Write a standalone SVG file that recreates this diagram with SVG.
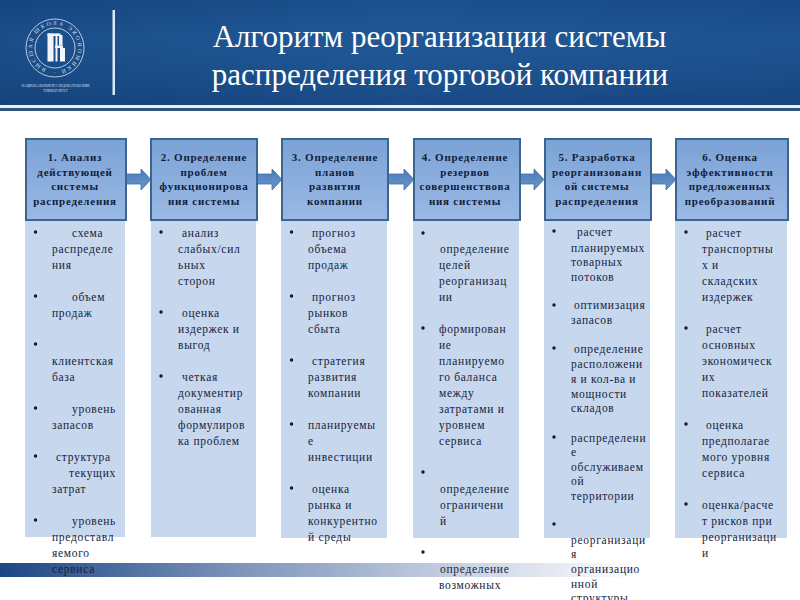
<svg xmlns="http://www.w3.org/2000/svg" width="800" height="600" viewBox="0 0 800 600">
<style>
text{font-family:"Liberation Serif","Times New Roman",serif}
.t{font-size:31px;fill:#fff;text-anchor:middle}
.h{font-size:11px;font-weight:bold;fill:#10203a;text-anchor:middle;letter-spacing:.75px}
.b{font-size:11.5px;fill:#16233a;letter-spacing:.7px}
.d{fill:#0d1a33}
.hd{fill:url(#hg);stroke:#3b648f;stroke-width:2}
.bd{fill:#c6d7ee}
.ar{fill:url(#ag);stroke:#3f6fa3;stroke-width:.8}
</style>
<defs>
<linearGradient id="top" x1="0" y1="0" x2="1" y2="0"><stop offset="0" stop-color="#174781"/><stop offset=".5" stop-color="#1d5492"/><stop offset="1" stop-color="#1a4c8a"/></linearGradient>
<linearGradient id="shade" x1="0" y1="0" x2="0" y2="1"><stop offset="0" stop-color="#10407a" stop-opacity=".2"/><stop offset=".35" stop-color="#2a6aa8" stop-opacity=".2"/><stop offset="1" stop-color="#123a70" stop-opacity=".4"/></linearGradient>
<linearGradient id="foot" x1="0" y1="0" x2="1" y2="0"><stop offset="0" stop-color="#1c4685"/><stop offset=".3" stop-color="#7e94ba"/><stop offset=".6" stop-color="#ced7e6"/><stop offset=".8" stop-color="#fff"/></linearGradient>
<linearGradient id="hg" x1="0" y1="0" x2="0" y2="1"><stop offset="0" stop-color="#7ba2d6"/><stop offset="1" stop-color="#9ab9e4"/></linearGradient>
<linearGradient id="ag" x1="0" y1="0" x2="0" y2="1"><stop offset="0" stop-color="#4a7cb8"/><stop offset="1" stop-color="#6a96cc"/></linearGradient>
<path id="ring" d="M46 69a23 23 0 1 1 18 0a23 23 0 0 1-18 0"/>
</defs>
<rect width="800" height="600" fill="#fff"/>
<g id="header">
<rect width="800" height="105" fill="url(#top)"/><rect width="800" height="105" fill="url(#shade)"/>
<rect y="105" width="800" height="3" fill="#e8f0f8"/><rect y="108" width="800" height="3" fill="#2f5480"/>
<rect x="112.500" y="10" width="2.500" height="85" fill="#dce8f4"/>
<g id="logo" fill="none" stroke="#dfe8f2">
<circle cx="55" cy="48" r="29" stroke-width=".8"/><circle cx="55" cy="48" r="20" stroke-width=".8"/>
<text font-size="5.500" fill="#dfe8f2" stroke="none"><textPath href="#ring" textLength="136" lengthAdjust="spacing">ВЫСШАЯ ШКОЛА ЭКОНОМИКИ ·</textPath></text>
<g fill="#f0f5fa" stroke="none"><rect x="47.500" y="33.500" width="6" height="28"/><rect x="55.500" y="33.500" width="2" height="28"/><rect x="60" y="48" width="5" height="13.500"/><rect x="47.500" y="33.500" width="13" height="2.500"/><rect x="59" y="35" width="3.500" height="10.500"/><rect x="55" y="45.500" width="8" height="2.500"/></g>
</g>
<text x="55.500" y="87" font-size="3.400" fill="#cfdcec" text-anchor="middle">НАЦИОНАЛЬНЫЙ ИССЛЕДОВАТЕЛЬСКИЙ</text>
<text x="55.500" y="92" font-size="3.400" fill="#cfdcec" text-anchor="middle">УНИВЕРСИТЕТ</text>
<text class="t" x="439.500" y="47">Алгоритм реорганизации системы</text>
<text class="t" x="440" y="85">распределения торговой компании</text>
</g>
<rect id="footer" y="563" width="800" height="14" fill="url(#foot)"/>
<g id="connectors">
<polygon class="ar" points="126,174 141,174 141,169 151,179.500 141,190 141,184 126,184"/>
<polygon class="ar" points="257,174 272,174 272,169 282,179.500 272,190 272,184 257,184"/>
<polygon class="ar" points="388,174 404,174 404,169 414,179.500 404,190 404,184 388,184"/>
<polygon class="ar" points="520,174 534,174 534,169 544,179.500 534,190 534,184 520,184"/>
<polygon class="ar" points="651,174 666,174 666,169 676,179.500 666,190 666,184 651,184"/>
</g>
<g id="node1">
<rect class="bd" x="25" y="220" width="100" height="317"/><rect class="hd" x="26" y="139" width="100" height="81"/>
<text class="h" x="75" y="161">1. Анализ</text><text class="h" x="75" y="176">действующей</text><text class="h" x="75" y="190">системы</text><text class="h" x="75" y="205">распределения</text>
<g class="d"><circle cx="35.500" cy="232" r="1.700"/><circle cx="35.500" cy="296" r="1.700"/><circle cx="35.500" cy="344" r="1.700"/><circle cx="35.500" cy="408" r="1.700"/><circle cx="35.500" cy="456" r="1.700"/><circle cx="35.500" cy="520" r="1.700"/></g>
<text class="b" x="72" y="237">схема</text><text class="b" x="52" y="253">распределе</text><text class="b" x="52" y="269">ния</text>
<text class="b" x="72" y="301">объем</text><text class="b" x="52" y="317">продаж</text>
<text class="b" x="52" y="365">клиентская</text><text class="b" x="52" y="381">база</text>
<text class="b" x="72" y="413">уровень</text><text class="b" x="52" y="429">запасов</text>
<text class="b" x="56" y="461">структура</text><text class="b" x="69" y="477">текущих</text><text class="b" x="52" y="493">затрат</text>
<text class="b" x="72" y="525">уровень</text><text class="b" x="52" y="541">предоставл</text><text class="b" x="52" y="557">яемого</text><text class="b" x="52" y="573">сервиса</text>
</g>
<g id="node2">
<rect class="bd" x="151" y="220" width="105" height="317"/><rect class="hd" x="151" y="139" width="106" height="81"/>
<text class="h" x="204" y="161">2. Определение</text><text class="h" x="204" y="176">проблем</text><text class="h" x="204" y="190">функционирова</text><text class="h" x="204" y="205">ния системы</text>
<g class="d"><circle cx="161" cy="232" r="1.700"/><circle cx="161" cy="312" r="1.700"/><circle cx="161" cy="376" r="1.700"/></g>
<text class="b" x="182" y="237">анализ</text><text class="b" x="178" y="253">слабых/сил</text><text class="b" x="178" y="269">ьных</text><text class="b" x="178" y="285">сторон</text>
<text class="b" x="182" y="317">оценка</text><text class="b" x="178" y="333">издержек и</text><text class="b" x="178" y="349">выгод</text>
<text class="b" x="182" y="381">четкая</text><text class="b" x="178" y="397">документир</text><text class="b" x="178" y="413">ованная</text><text class="b" x="178" y="429">формулиров</text><text class="b" x="178" y="445">ка проблем</text>
</g>
<g id="node3">
<rect class="bd" x="281" y="220" width="106" height="318"/><rect class="hd" x="282" y="139" width="106" height="81"/>
<text class="h" x="335" y="161">3. Определение</text><text class="h" x="335" y="176">планов</text><text class="h" x="335" y="190">развития</text><text class="h" x="335" y="205">компании</text>
<g class="d"><circle cx="291.500" cy="232" r="1.700"/><circle cx="291.500" cy="296" r="1.700"/><circle cx="291.500" cy="360" r="1.700"/><circle cx="291.500" cy="424" r="1.700"/><circle cx="291.500" cy="488" r="1.700"/></g>
<text class="b" x="312" y="237">прогноз</text><text class="b" x="308" y="253">объема</text><text class="b" x="308" y="269">продаж</text>
<text class="b" x="312" y="301">прогноз</text><text class="b" x="308" y="317">рынков</text><text class="b" x="308" y="333">сбыта</text>
<text class="b" x="312" y="365">стратегия</text><text class="b" x="308" y="381">развития</text><text class="b" x="308" y="397">компании</text>
<text class="b" x="308" y="429">планируемы</text><text class="b" x="308" y="445">е</text><text class="b" x="308" y="461">инвестиции</text>
<text class="b" x="312" y="493">оценка</text><text class="b" x="308" y="509">рынка и</text><text class="b" x="308" y="525">конкурентно</text><text class="b" x="308" y="541">й среды</text>
</g>
<g id="node4">
<rect class="bd" x="413" y="220" width="106" height="318"/><rect class="hd" x="414" y="139" width="106" height="81"/>
<text class="h" x="465" y="161">4. Определение</text><text class="h" x="465" y="176">резервов</text><text class="h" x="465" y="190">совершенствова</text><text class="h" x="465" y="205">ния системы</text>
<g class="d"><circle cx="423" cy="233" r="1.700"/><circle cx="423" cy="328" r="1.700"/><circle cx="423" cy="472" r="1.700"/><circle cx="423" cy="552" r="1.700"/></g>
<text class="b" x="440" y="253">определение</text><text class="b" x="439" y="269">целей</text><text class="b" x="439" y="285">реорганизац</text><text class="b" x="439" y="301">ии</text>
<text class="b" x="439" y="333">формирован</text><text class="b" x="439" y="349">ие</text><text class="b" x="439" y="365">планируемо</text><text class="b" x="439" y="381">го баланса</text><text class="b" x="439" y="397">между</text><text class="b" x="439" y="413">затратами и</text><text class="b" x="439" y="429">уровнем</text><text class="b" x="439" y="445">сервиса</text>
<text class="b" x="440" y="493">определение</text><text class="b" x="440" y="509">ограничени</text><text class="b" x="440" y="525">й</text>
<text class="b" x="440" y="573">определение</text><text class="b" x="439" y="589">возможных</text>
</g>
<g id="node5">
<rect class="bd" x="544" y="220" width="106" height="318"/><rect class="hd" x="545" y="139" width="106" height="81"/>
<text class="h" x="597" y="161">5. Разработка</text><text class="h" x="597" y="176">реорганизованн</text><text class="h" x="597" y="190">ой системы</text><text class="h" x="597" y="205">распределения</text>
<g class="d"><circle cx="554" cy="231" r="1.700"/><circle cx="554" cy="305" r="1.700"/><circle cx="554" cy="348" r="1.700"/><circle cx="554" cy="437" r="1.700"/><circle cx="554" cy="524" r="1.700"/></g>
<text class="b" x="577" y="236">расчет</text><text class="b" x="571" y="252">планируемых</text><text class="b" x="571" y="266">товарных</text><text class="b" x="571" y="281">потоков</text>
<text class="b" x="574" y="309">оптимизация</text><text class="b" x="571" y="324">запасов</text>
<text class="b" x="574" y="353">определение</text><text class="b" x="571" y="368">расположени</text><text class="b" x="571" y="383">я и кол-ва и</text><text class="b" x="571" y="398">мощности</text><text class="b" x="571" y="412">складов</text>
<text class="b" x="571" y="442">распределени</text><text class="b" x="571" y="456">е</text><text class="b" x="571" y="471">обслуживаем</text><text class="b" x="571" y="485">ой</text><text class="b" x="571" y="500">территории</text>
<text class="b" x="571" y="544">реорганизаци</text><text class="b" x="571" y="558">я</text><text class="b" x="571" y="573">организацио</text><text class="b" x="571" y="588">нной</text><text class="b" x="571" y="602">структуры</text>
</g>
<g id="node6">
<rect class="bd" x="675" y="220" width="112" height="318"/><rect class="hd" x="676" y="139" width="112" height="81"/>
<text class="h" x="730" y="161">6. Оценка</text><text class="h" x="730" y="176">эффективности</text><text class="h" x="730" y="190">предложенных</text><text class="h" x="730" y="205">преобразований</text>
<g class="d"><circle cx="686" cy="232" r="1.700"/><circle cx="686" cy="328" r="1.700"/><circle cx="686" cy="424" r="1.700"/><circle cx="686" cy="504" r="1.700"/></g>
<text class="b" x="706" y="237">расчет</text><text class="b" x="702" y="253">транспортны</text><text class="b" x="702" y="269">х и</text><text class="b" x="702" y="285">складских</text><text class="b" x="702" y="301">издержек</text>
<text class="b" x="706" y="333">расчет</text><text class="b" x="702" y="349">основных</text><text class="b" x="702" y="365">экономическ</text><text class="b" x="702" y="381">их</text><text class="b" x="702" y="397">показателей</text>
<text class="b" x="706" y="429">оценка</text><text class="b" x="702" y="445">предполагае</text><text class="b" x="702" y="461">мого уровня</text><text class="b" x="702" y="477">сервиса</text>
<text class="b" x="702" y="509">оценка/расче</text><text class="b" x="702" y="525">т рисков при</text><text class="b" x="702" y="541">реорганизаци</text><text class="b" x="702" y="557">и</text>
</g>
</svg>
